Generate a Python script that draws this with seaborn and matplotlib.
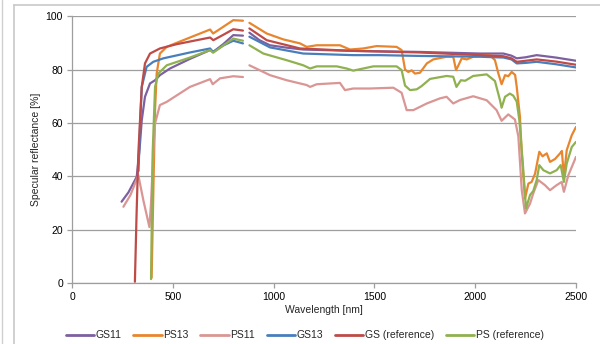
import numpy as np
import pandas as pd
import matplotlib
matplotlib.use("Agg")
import matplotlib.pyplot as plt
import seaborn as sns
from matplotlib.lines import Line2D

nan = np.nan

series_names = ["GS11", "PS13", "PS11", "GS13", "GS (reference)", "PS (reference)"]
colors = ["#7D60A0", "#E8862F", "#D99694", "#4A7EBB", "#BE4B48", "#8FB150"]

wl_gs11 = [246, 280, 321, 335, 346, 362, 387, 412, 436, 486, 585, 685, 700, 750, 800, 848, nan,
           880, 930, 982, 1065, 1147, 1395, 1726, 2024, 2140, 2180, 2206, 2250, 2305, 2400, 2500]
v_gs11 = [30.5, 34, 39.8, 50, 61, 69.8, 74.8, 76, 77.9, 80.4, 84.0, 87.3, 86.6, 89.5, 92.9, 92.7, nan,
          93.8, 91, 89.1, 88.2, 87.5, 87, 86.6, 86, 86, 85.2, 84.2, 84.6, 85.4, 84.5, 83.3]

wl_ps13 = [395, 405, 412, 420, 436, 470, 519, 585, 685, 700, 750, 800, 848, nan,
           880, 966, 1048, 1131, 1164, 1214, 1329, 1379, 1445, 1511, 1610, 1635, 1652, 1668, 1685,
           1701, 1726, 1760, 1792, 1858, 1891, 1905, 1917, 1933, 1958, 1990, 2073, 2098, 2115, 2131,
           2148, 2164, 2181, 2198, 2206, 2222, 2231, 2247, 2264, 2280, 2297, 2318, 2334, 2355, 2371,
           2396, 2421, 2430, 2440, 2454, 2479, 2500]
v_ps13 = [2, 40, 65, 78.5, 86, 88.5, 90.0, 92.0, 95, 93.5, 96, 98.5, 98.3, nan,
          97.5, 93.5, 91.3, 89.8, 88.5, 89.1, 89.1, 87.5, 87.9, 88.8, 88.5, 87.3, 80, 79.1, 79.7,
          78.5, 78.8, 82.3, 83.8, 84.8, 84.8, 79.8, 81.6, 84.2, 83.8, 84.8, 85.4, 83.5, 78.5, 74.5,
          77.9, 77.5, 79.1, 78, 73.5, 62.3, 48.6, 31.7, 37.3, 37.9, 41, 49.2, 47.5, 48.6, 45.4,
          46.5, 48.6, 49.5, 39.8, 49.8, 55.4, 58.5]

wl_ps11 = [255, 290, 329, 354, 384, 392, 405, 412, 436, 470, 585, 685, 698, 734, 800, 848, nan,
           880, 982, 1065, 1164, 1181, 1214, 1329, 1354, 1395, 1478, 1594, 1635, 1660, 1693, 1760,
           1825, 1858, 1891, 1925, 1990, 2057, 2106, 2131, 2164, 2197, 2214, 2231, 2247, 2272, 2288,
           2313, 2346, 2371, 2404, 2429, 2440, 2462, 2500]
v_ps11 = [28.6, 33, 40.4, 31, 21, 30, 52, 59.8, 66.7, 67.9, 73.5, 76.4, 74.5, 76.7, 77.5, 77.2, nan,
          81.6, 77.9, 76, 74.2, 73.5, 74.5, 75, 72.3, 72.9, 72.9, 73.2, 71.3, 64.8, 64.8, 67.3,
          69.2, 69.8, 67.3, 68.6, 70, 68.5, 64.8, 60.8, 63.2, 61.3, 55, 34.8, 26.1, 29.8, 33.6,
          38.6, 36.7, 34.8, 36.7, 37.9, 34.2, 40.4, 47.3]

wl_gs13 = [330, 338, 346, 370, 403, 453, 585, 685, 700, 750, 800, 848, nan,
           880, 982, 1147, 1395, 1528, 1726, 2024, 2140, 2180, 2206, 2250, 2305, 2400, 2500]
v_gs13 = [42, 60, 73.5, 81, 82.9, 84.2, 86.4, 87.9, 86.6, 89, 90.8, 89.8, nan,
          92.3, 88.3, 86, 85.4, 85.4, 85.1, 84.8, 84.5, 83.8, 82.3, 82.5, 82.9, 82, 80.8]

wl_gsref = [312, 320, 329, 346, 362, 387, 436, 519, 585, 685, 701, 750, 800, 848, nan,
            880, 966, 1131, 1395, 1726, 2024, 2140, 2180, 2206, 2250, 2305, 2400, 2500]
v_gsref = [0.5, 25, 48.6, 73.5, 82.3, 86, 87.9, 89.5, 90.5, 92, 91, 93, 95.1, 94.6, nan,
           95.4, 91, 87.9, 87, 86.4, 85.4, 85, 84.2, 82.9, 83.3, 83.8, 83, 81.8]

wl_psref = [392, 396, 400, 412, 428, 470, 585, 685, 700, 750, 800, 848, nan,
            880, 949, 1065, 1147, 1181, 1214, 1313, 1362, 1395, 1445, 1495, 1610, 1635, 1652, 1677,
            1710, 1734, 1776, 1858, 1891, 1907, 1929, 1950, 1990, 2057, 2098, 2123, 2131, 2148,
            2172, 2189, 2206, 2219, 2236, 2252, 2272, 2288, 2305, 2318, 2338, 2371, 2404, 2424,
            2440, 2454, 2479, 2500]
v_psref = [1.5, 25, 48.6, 73.5, 78.5, 81.6, 84.5, 87.3, 86.3, 89, 91.6, 90.8, nan,
           89.1, 86, 83.5, 81.6, 80.4, 81.2, 81.2, 80.4, 79.6, 80.4, 81.2, 81.2, 79.8, 74, 72.3,
           72.6, 73.8, 76.5, 77.6, 77.3, 73.5, 76, 75.8, 77.6, 78.2, 75.7, 68.5, 65.7, 69.8,
           71, 70.2, 68, 61, 45, 28, 33, 34.5, 38.6, 44.2, 42.3, 41.1, 42.3, 44.2,
           37.9, 44.8, 51, 52.9]

x_ticks = [0, 500, 1000, 1500, 2000, 2500]
y_ticks = [0, 20, 40, 60, 80, 100]

all_wl = [wl_gs11, wl_ps13, wl_ps11, wl_gs13, wl_gsref, wl_psref]
all_v = [v_gs11, v_ps13, v_ps11, v_gs13, v_gsref, v_psref]

frames = []
for name, w, v in zip(series_names, all_wl, all_v):
    w = np.asarray(w, dtype=float)
    v = np.asarray(v, dtype=float)
    seg = np.cumsum(np.isnan(w))
    d = pd.DataFrame({"wl": w, "val": v, "series": name, "segment": seg})
    frames.append(d.dropna())
df = pd.concat(frames, ignore_index=True)

sns.set_theme(style="white")
plt.rcParams["font.family"] = ["Liberation Sans", "DejaVu Sans"]

fig = plt.figure(figsize=(6.0, 3.44), dpi=100)
ax = fig.add_axes([0.12, 0.177, 0.84, 0.776])

sns.lineplot(data=df, x="wl", y="val", hue="series", hue_order=series_names,
             units="segment", estimator=None, sort=False, palette=colors,
             linewidth=1.6, ax=ax, legend=False)

ax.set_xlim(0, 2500)
ax.set_ylim(0, 100)
ax.set_xticks(x_ticks)
ax.set_yticks(y_ticks)
ax.yaxis.grid(True, color="#9E9E9E", linewidth=0.9)
ax.set_axisbelow(True)
for s in ["top", "right"]:
    ax.spines[s].set_visible(False)
for s in ["left", "bottom"]:
    ax.spines[s].set_color("#9E9E9E")
    ax.spines[s].set_linewidth(0.9)
ax.tick_params(axis="both", which="major", labelsize=7.5, length=3.5, width=0.9,
               color="#9E9E9E", direction="out", pad=3, labelcolor="black")
ax.tick_params(axis="x", bottom=True)
ax.tick_params(axis="y", left=True)
ax.set_xlabel("Wavelength [nm]", fontsize=7.5, labelpad=2)
ax.set_ylabel("Specular reflectance [%]", fontsize=7.5, labelpad=3)

handles = [Line2D([0], [0], color=c, lw=2) for c in colors]
fig.legend(handles, series_names, loc="lower center", bbox_to_anchor=(0.508, -0.01),
           ncol=6, frameon=False, fontsize=7.5, handlelength=2.7, handletextpad=0.15,
           columnspacing=1.15, borderaxespad=0.3)

# chart frame lines
fig.add_artist(Line2D([14 / 600, 14 / 600], [0, 1 - 5 / 344], color="#C8C8C8", lw=1.2,
                      transform=fig.transFigure))
fig.add_artist(Line2D([14 / 600, 1], [1 - 5 / 344, 1 - 5 / 344], color="#C8C8C8", lw=1.2,
                      transform=fig.transFigure))
fig.add_artist(Line2D([2 / 600, 2 / 600], [0, 1], color="#D0D0D0", lw=1.0,
                      transform=fig.transFigure))

fig.savefig("out.png", dpi=100)
